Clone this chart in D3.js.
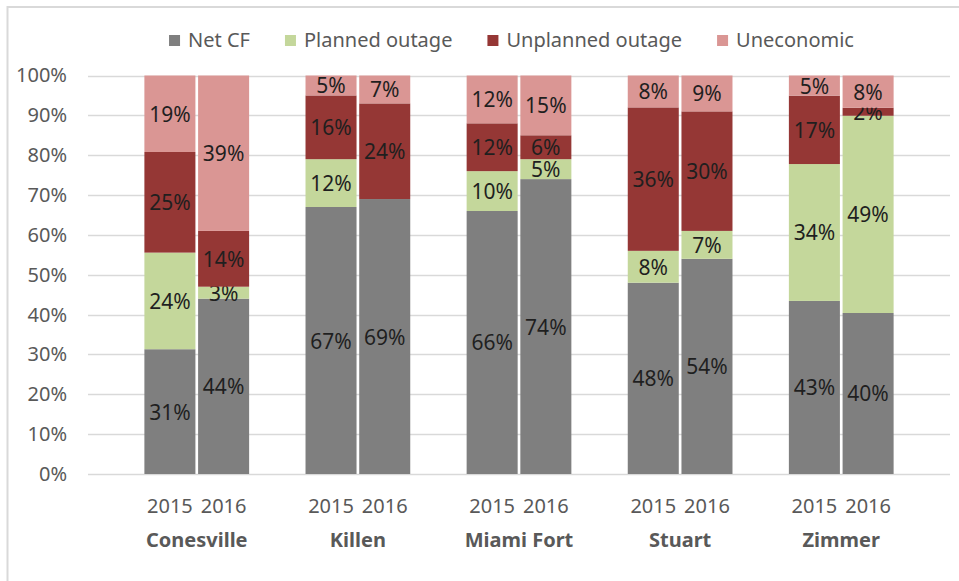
<!DOCTYPE html>
<html>
<head>
<meta charset="utf-8">
<script src="https://cdn.jsdelivr.net/npm/d3@7"></script>
<style>
    body { margin: 0; background: #fff; }
    text { font-family: "Noto Sans", "Open Sans", sans-serif; }
</style>
</head>
<body>
<div id="chart"></div>
<script>
'use strict';

// categories
const plants = ['Conesville', 'Killen', 'Miami Fort', 'Stuart', 'Zimmer'];
const years = ['2015', '2016'];
const seriesNames = ['Net CF', 'Planned outage', 'Unplanned outage', 'Uneconomic'];

// series values (%), in order plant x year
const netCF = [31, 44, 67, 69, 66, 74, 48, 54, 43, 40];
const plannedOutage = [24, 3, 12, 0, 10, 5, 8, 7, 34, 49];
const unplannedOutage = [25, 14, 16, 24, 12, 6, 36, 30, 17, 2];
const uneconomic = [19, 39, 5, 7, 12, 15, 8, 9, 5, 8];

// tick labels
const yTicks = [0, 0.1, 0.2, 0.3, 0.4, 0.5, 0.6, 0.7, 0.8, 0.9, 1];

const colors = ['#7f7f7f', '#c4d79b', '#953735', '#da9694'];

class StackedChart {

    constructor(_ref) {
        this.parent = _ref;

        // build rows from the arrays
        this.data = [];
        plants.forEach((p, i) => {
            years.forEach((y, j) => {
                const k = i * years.length + j;
                this.data.push({
                    plant: p,
                    year: y,
                    'Net CF': netCF[k],
                    'Planned outage': plannedOutage[k],
                    'Unplanned outage': unplannedOutage[k],
                    'Uneconomic': uneconomic[k]
                });
            });
        });

        this.initVis();
    }

    initVis() {
        const vis = this;

        // Config
        vis.w = 959;
        vis.h = 581;

        vis.svg = d3.select(`#${vis.parent}`)
            .append('svg')
            .attr('width', vis.w)
            .attr('height', vis.h);

        // chart border
        vis.svg.append('rect')
            .attr('x', 7.5)
            .attr('y', 7)
            .attr('width', 1000)
            .attr('height', 600)
            .attr('fill', 'none')
            .attr('stroke', '#d9d9d9')
            .attr('stroke-width', 2);

        // plot area
        vis.left = 88;
        vis.right = 950;
        vis.top = 75.5;
        vis.bottom = 474;

        vis.xScale = d3.scaleBand()
            .domain(plants)
            .range([vis.left, vis.right])
            .paddingInner(0.35)
            .paddingOuter(0.35);

        vis.yearScale = d3.scaleBand()
            .domain(years)
            .range([0, vis.xScale.bandwidth()])
            .paddingInner(0.05);

        vis.yScale = d3.scaleLinear()
            .domain([0, 1])
            .range([vis.bottom, vis.top]);

        vis.g = vis.svg.append('g');

        vis.wrangleData();
    }

    wrangleData() {
        const vis = this;

        // 100% stacked
        vis.stacked = d3.stack()
            .keys(seriesNames)
            .offset(d3.stackOffsetExpand)(vis.data);

        vis.updateVis();
    }

    updateVis() {
        const vis = this;

        // gridlines
        vis.g.append('g')
            .selectAll('line')
            .data(yTicks)
            .join('line')
            .attr('x1', vis.left)
            .attr('x2', vis.right)
            .attr('y1', d => Math.round(vis.yScale(d)) + 0.5)
            .attr('y2', d => Math.round(vis.yScale(d)) + 0.5)
            .attr('stroke', '#d9d9d9')
            .attr('stroke-width', 1.5);

        // y axis labels
        const yAxis = d3.axisLeft(vis.yScale)
            .tickValues(yTicks)
            .tickFormat(d3.format('.0%'))
            .tickSize(0)
            .tickPadding(0);

        vis.g.append('g')
            .attr('transform', 'translate(67,0)')
            .call(yAxis)
            .call(g => g.select('.domain').remove())
            .selectAll('text')
            .attr('font-size', 20)
            .attr('fill', '#595959');

        // bars
        const layers = vis.g.append('g')
            .selectAll('g')
            .data(vis.stacked)
            .join('g')
            .attr('fill', (d, i) => colors[i]);

        layers.selectAll('rect')
            .data(d => d.map(s => ({s: s, key: d.key})))
            .join('rect')
            .attr('x', d => vis.xScale(d.s.data.plant) + vis.yearScale(d.s.data.year))
            .attr('width', vis.yearScale.bandwidth())
            .attr('y', d => vis.yScale(d.s[1]))
            .attr('height', d => vis.yScale(d.s[0]) - vis.yScale(d.s[1]));

        // data labels
        layers.selectAll('text')
            .data(d => d.map(s => ({s: s, key: d.key})).filter(d => d.s.data[d.key] > 0))
            .join('text')
            .attr('x', d => vis.xScale(d.s.data.plant) + vis.yearScale(d.s.data.year) + vis.yearScale.bandwidth() / 2)
            .attr('y', d => vis.yScale((d.s[0] + d.s[1]) / 2))
            .attr('text-anchor', 'middle')
            .attr('dominant-baseline', 'central')
            .attr('font-size', 21)
            .attr('fill', '#1f1f1f')
            .text(d => d.s.data[d.key] + '%');

        // year labels
        const xLabels = vis.g.append('g');
        plants.forEach(p => {
            xLabels.selectAll(null)
                .data(years)
                .join('text')
                .attr('x', y => vis.xScale(p) + vis.yearScale(y) + vis.yearScale.bandwidth() / 2)
                .attr('y', 513)
                .attr('text-anchor', 'middle')
                .attr('font-size', 20)
                .attr('fill', '#595959')
                .text(y => y);
        });

        // plant labels
        xLabels.selectAll('.plant')
            .data(plants)
            .join('text')
            .attr('class', 'plant')
            .attr('x', p => vis.xScale(p) + vis.xScale.bandwidth() / 2)
            .attr('y', 547)
            .attr('text-anchor', 'middle')
            .attr('font-size', 20)
            .attr('font-weight', 'bold')
            .attr('fill', '#595959')
            .text(p => p);

        // legend
        const legend = vis.svg.append('g');
        let x = 0;
        seriesNames.forEach((name, i) => {
            const item = legend.append('g').attr('transform', `translate(${x},0)`);
            item.append('rect')
                .attr('x', 0)
                .attr('y', 35)
                .attr('width', 11)
                .attr('height', 11)
                .attr('fill', colors[i]);
            const t = item.append('text')
                .attr('x', 19)
                .attr('y', 47)
                .attr('font-size', 20)
                .attr('fill', '#595959')
                .text(name);
            x += 19 + t.node().getComputedTextLength() + 35;
        });
        const legendW = x - 35;
        legend.attr('transform', `translate(${511.5 - legendW / 2},0)`);
    }
}

new StackedChart('chart');
</script>
</body>
</html>
